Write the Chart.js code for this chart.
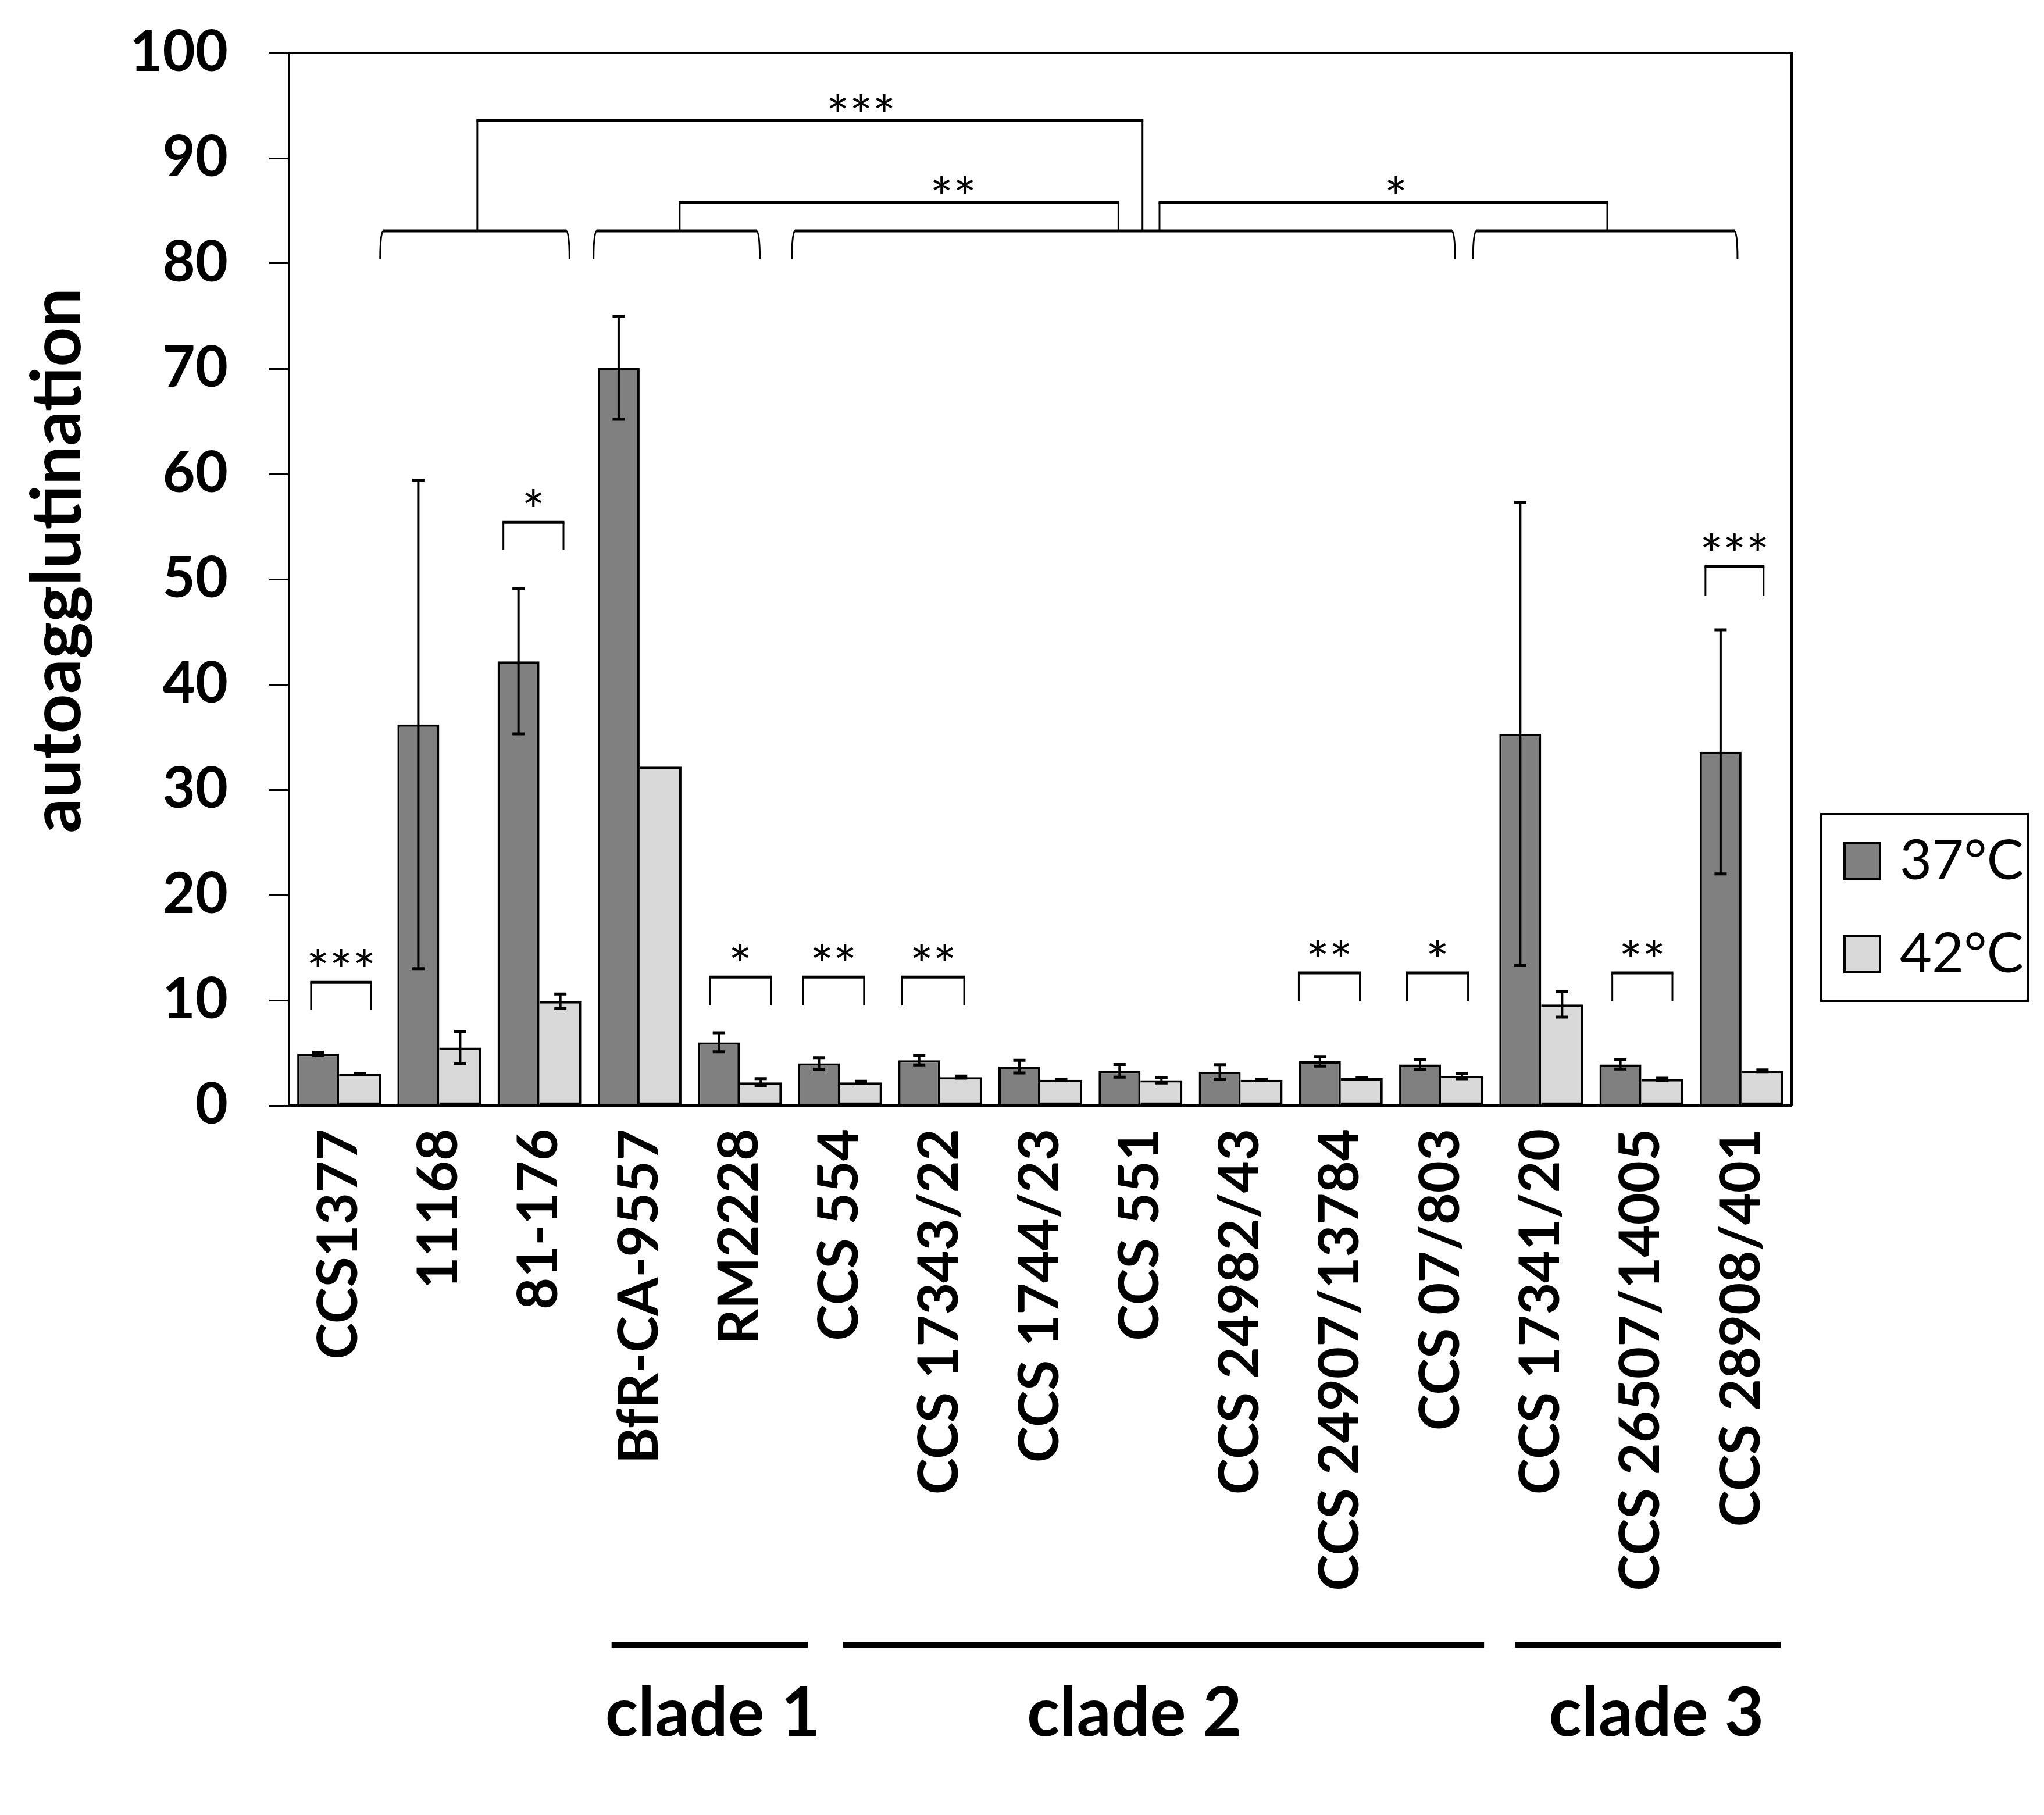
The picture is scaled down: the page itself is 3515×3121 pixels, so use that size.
<!DOCTYPE html>
<html lang="en">
<head>
    <meta charset="UTF-8">
    <title>Autoagglutination</title>
    <script src="https://cdn.jsdelivr.net/npm/chart.js"></script>
    <style>
        html, body { margin: 0; padding: 0; background: #fff; }
        #grafico { display: block; }
    </style>
</head>
<body>
    <canvas id="grafico" width="3515" height="3121"></canvas>
    <script>
        const strains = ['CCS1377', '11168', '81-176', 'BfR-CA-9557', 'RM2228', 'CCS 554', 'CCS 17343/22',
            'CCS 1744/23', 'CCS 551', 'CCS 24982/43', 'CCS 24907/13784', 'CCS 07/803', 'CCS 17341/20',
            'CCS 26507/14005', 'CCS 28908/401'];
        const seriesNames = ['37°C', '42°C'];
        const mean37 = [4.9, 36.2, 42.2, 70.1, 6.0, 4.0, 4.3, 3.7, 3.3, 3.2, 4.2, 3.9, 35.3, 3.9, 33.6];
        const sd37 = [0.15, 23.2, 6.9, 4.9, 0.9, 0.55, 0.45, 0.6, 0.6, 0.68, 0.46, 0.45, 22.0, 0.44, 11.6];
        const mean42 = [3.0, 5.5, 9.9, 32.2, 2.2, 2.2, 2.7, 2.45, 2.4, 2.45, 2.6, 2.8, 9.6, 2.5, 3.3];
        const sd42 = [0.05, 1.55, 0.7, 0, 0.35, 0.1, 0.1, 0.04, 0.26, 0.05, 0.05, 0.26, 1.2, 0.1, 0.08];
        const yMax = 100;
        const yStep = 10;

        // 37 vs 42 within one strain (strain index, stars, bracket levels)
        const pairTests = [
            { strain: 0, stars: '***', top: 11.7, foot: 9.1, left: -0.28, right: 0.32 },
            { strain: 2, stars: '*', top: 55.4, foot: 52.8, left: -0.36, right: 0.24 },
            { strain: 4, stars: '*', top: 12.2, foot: 9.5, left: -0.30, right: 0.31 },
            { strain: 5, stars: '**', top: 12.2, foot: 9.5, left: -0.37, right: 0.24 },
            { strain: 6, stars: '**', top: 12.2, foot: 9.5, left: -0.38, right: 0.24 },
            { strain: 10, stars: '**', top: 12.6, foot: 9.9, left: -0.42, right: 0.19 },
            { strain: 11, stars: '*', top: 12.6, foot: 9.9, left: -0.34, right: 0.27 },
            { strain: 13, stars: '**', top: 12.6, foot: 9.9, left: -0.29, right: 0.31 },
            { strain: 14, stars: '***', top: 51.2, foot: 48.4, left: -0.36, right: 0.22 }
        ];

        // groups compared at 37°C (in strain index units)
        const groups = [
            { from: 0.41, to: 2.30 },
            { from: 2.54, to: 4.20 },
            { from: 4.52, to: 11.14 },
            { from: 11.32, to: 13.96 }
        ];
        const groupTop = 83.1;
        const groupFoot = 80.4;
        const links = [
            { from: 1.38, to: 8.02, level: 93.6, stars: '***', at: 5.21 },
            { from: 3.40, to: 7.78, level: 85.8, stars: '**', at: 6.13 },
            { from: 8.19, to: 12.66, level: 85.8, stars: '*', at: 10.55 }
        ];

        const clades = [
            { name: 'clade 1', from: 2.72, to: 4.68, at: 3.73 },
            { name: 'clade 2', from: 5.03, to: 11.43, at: 7.94 },
            { name: 'clade 3', from: 11.74, to: 14.39, at: 13.15 }
        ];

        const fonte = 'Lato, "Open Sans", sans-serif';

        function desenharTexto(ctx, texto, x, yCentro) {
            // centre the visible glyphs vertically on yCentro
            const m = ctx.measureText(texto);
            const base = yCentro + (m.actualBoundingBoxAscent - m.actualBoundingBoxDescent) / 2;
            ctx.fillText(texto, x, base);
        }

        const barrasDeErro = {
            id: 'barrasDeErro',
            afterDatasetsDraw(chart) {
                const ctx = chart.ctx;
                const y = chart.scales.y;
                ctx.save();
                ctx.strokeStyle = '#000';
                chart.data.datasets.forEach((ds, di) => {
                    chart.getDatasetMeta(di).data.forEach((bar, i) => {
                        const e = ds.erros[i];
                        if (!e) return;
                        const yHi = y.getPixelForValue(ds.data[i] + e);
                        const yLo = y.getPixelForValue(ds.data[i] - e);
                        ctx.lineWidth = 4;
                        ctx.beginPath();
                        ctx.moveTo(bar.x, yHi);
                        ctx.lineTo(bar.x, yLo);
                        ctx.stroke();
                        ctx.lineWidth = 5;
                        ctx.beginPath();
                        ctx.moveTo(bar.x - 10.5, yHi);
                        ctx.lineTo(bar.x + 10.5, yHi);
                        ctx.moveTo(bar.x - 10.5, yLo);
                        ctx.lineTo(bar.x + 10.5, yLo);
                        ctx.stroke();
                    });
                });
                ctx.restore();
            }
        };

        const anotacoes = {
            id: 'anotacoes',
            afterDraw(chart) {
                const ctx = chart.ctx;
                const x = chart.scales.x;
                const y = chart.scales.y;
                const area = chart.chartArea;
                ctx.save();
                ctx.strokeStyle = '#000';
                ctx.fillStyle = '#000';

                // frame top and right
                ctx.lineWidth = 4;
                ctx.beginPath();
                ctx.moveTo(area.left, area.top);
                ctx.lineTo(area.right, area.top);
                ctx.lineTo(area.right, area.bottom);
                ctx.stroke();

                // pair brackets
                ctx.font = '94px ' + fonte;
                ctx.textAlign = 'center';
                pairTests.forEach(p => {
                    const x1 = x.getPixelForValue(p.strain + p.left);
                    const x2 = x.getPixelForValue(p.strain + p.right);
                    const yt = y.getPixelForValue(p.top);
                    const yf = y.getPixelForValue(p.foot);
                    ctx.lineWidth = 3;
                    ctx.beginPath();
                    ctx.moveTo(x1, yf);
                    ctx.lineTo(x1, yt);
                    ctx.moveTo(x2, yt);
                    ctx.lineTo(x2, yf);
                    ctx.stroke();
                    ctx.lineWidth = 5;
                    ctx.beginPath();
                    ctx.moveTo(x1 - 1.5, yt);
                    ctx.lineTo(x2 + 1.5, yt);
                    ctx.stroke();
                    desenharTexto(ctx, p.stars, (x1 + x2) / 2, yt - 42);
                });

                // group brackets with rounded ends
                const gt = y.getPixelForValue(groupTop);
                const gf = y.getPixelForValue(groupFoot);
                groups.forEach(g => {
                    const x1 = x.getPixelForValue(g.from);
                    const x2 = x.getPixelForValue(g.to);
                    ctx.lineWidth = 3;
                    ctx.beginPath();
                    ctx.moveTo(x1, gf);
                    ctx.quadraticCurveTo(x1, gt, x1 + 6, gt);
                    ctx.moveTo(x2 - 6, gt);
                    ctx.quadraticCurveTo(x2, gt, x2, gf);
                    ctx.stroke();
                    ctx.lineWidth = 5;
                    ctx.beginPath();
                    ctx.moveTo(x1 + 5, gt);
                    ctx.lineTo(x2 - 5, gt);
                    ctx.stroke();
                });

                // links between groups
                links.forEach(l => {
                    const x1 = x.getPixelForValue(l.from);
                    const x2 = x.getPixelForValue(l.to);
                    const yl = y.getPixelForValue(l.level);
                    ctx.lineWidth = 3;
                    ctx.beginPath();
                    ctx.moveTo(x1, gt);
                    ctx.lineTo(x1, yl);
                    ctx.moveTo(x2, yl);
                    ctx.lineTo(x2, gt);
                    ctx.stroke();
                    ctx.lineWidth = 5;
                    ctx.beginPath();
                    ctx.moveTo(x1 - 1.5, yl);
                    ctx.lineTo(x2 + 1.5, yl);
                    ctx.stroke();
                    desenharTexto(ctx, l.stars, x.getPixelForValue(l.at), yl - 30);
                });

                // clade lines and names
                ctx.font = 'bold 117px ' + fonte;
                ctx.textBaseline = 'alphabetic';
                clades.forEach(c => {
                    const x1 = x.getPixelForValue(c.from);
                    const x2 = x.getPixelForValue(c.to);
                    ctx.fillRect(x1, area.bottom + 922, x2 - x1, 10);
                    ctx.fillText(c.name, x.getPixelForValue(c.at), area.bottom + 1084);
                });

                // y title
                ctx.save();
                ctx.font = 'bold 119px ' + fonte;
                ctx.translate(area.left - 397, (area.top + area.bottom) / 2 - 32);
                ctx.rotate(-Math.PI / 2);
                ctx.textAlign = 'center';
                ctx.textBaseline = 'middle';
                ctx.fillText('autoagglutination', 0, 0);
                ctx.restore();

                // legend box
                const lx = area.right + 51;
                const ly = area.bottom - 501;
                ctx.lineWidth = 4;
                ctx.strokeRect(lx, ly, 355, 321);
                ctx.font = '95px ' + fonte;
                ctx.textAlign = 'left';
                chart.data.datasets.forEach((ds, i) => {
                    const sy = ly + 50 + i * 160;
                    ctx.fillStyle = ds.backgroundColor;
                    ctx.fillRect(lx + 40, sy, 61, 61);
                    ctx.lineWidth = 4;
                    ctx.strokeRect(lx + 40, sy, 61, 61);
                    ctx.fillStyle = '#000';
                    ctx.fillText(ds.label, lx + 135, sy + 62);
                });

                ctx.restore();
            }
        };

        function criarGrafico() {
            const ctx = document.getElementById('grafico').getContext('2d');
            const config = {
                type: 'bar',
                data: {
                    labels: strains,
                    datasets: [{
                        label: seriesNames[0],
                        data: mean37,
                        erros: sd37,
                        backgroundColor: '#808080',
                        borderColor: '#000',
                        borderWidth: 4,
                        borderSkipped: 'bottom',
                        barPercentage: 1.0,
                        categoryPercentage: 0.836
                    }, {
                        label: seriesNames[1],
                        data: mean42,
                        erros: sd42,
                        backgroundColor: '#d9d9d9',
                        borderColor: '#000',
                        borderWidth: 4,
                        borderSkipped: 'left',
                        barPercentage: 1.0,
                        categoryPercentage: 0.836
                    }]
                },
                options: {
                    responsive: false,
                    animation: false,
                    devicePixelRatio: 1,
                    layout: { padding: { left: 0, top: 91, right: 434, bottom: 0 } },
                    plugins: {
                        legend: { display: false },
                        tooltip: { enabled: false }
                    },
                    scales: {
                        x: {
                            grid: { display: false, drawTicks: false },
                            border: { display: true, color: '#000', width: 5, z: 1 },
                            ticks: {
                                autoSkip: false,
                                minRotation: 90,
                                maxRotation: 90,
                                padding: 40,
                                color: '#000',
                                font: { family: fonte, size: 95, weight: 'bold' }
                            },
                            afterFit(scale) { scale.height = 1220; }
                        },
                        y: {
                            min: 0,
                            max: yMax,
                            grid: { drawOnChartArea: false, drawTicks: true, tickLength: 34, lineWidth: 3, color: '#000' },
                            border: { display: true, color: '#000', width: 4, z: 1 },
                            ticks: {
                                stepSize: yStep,
                                padding: 71,
                                color: '#000',
                                font: { family: fonte, size: 97, weight: 'bold' }
                            },
                            afterFit(scale) {
                                scale.width = 497;
                                scale.paddingTop = 0;
                                scale.paddingBottom = 0;
                            }
                        }
                    }
                },
                plugins: [barrasDeErro, anotacoes]
            };
            new Chart(ctx, config);
        }

        window.onload = function() {
            criarGrafico();
        };
    </script>
</body>
</html>
